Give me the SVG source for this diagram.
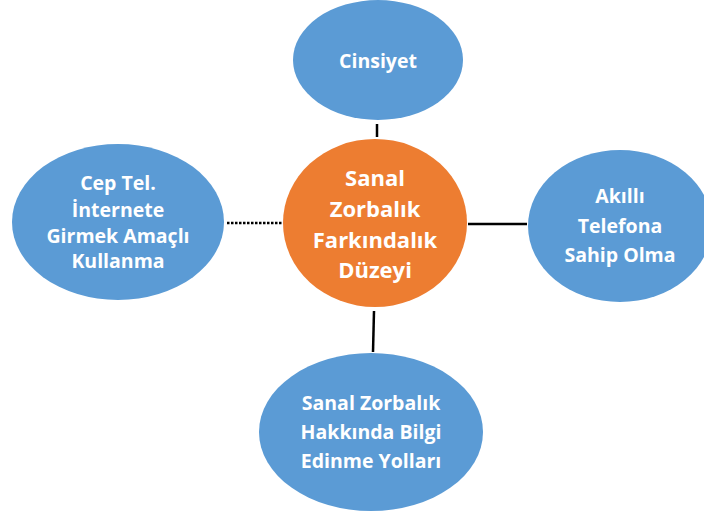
<svg xmlns="http://www.w3.org/2000/svg" width="704" height="513" viewBox="0 0 704 513">
<style>
.b{fill:#5B9BD5}
.o{fill:#ED7D31}
text{font-family:"Open Sans","Liberation Sans",sans-serif;font-weight:bold;fill:#fff;text-anchor:middle}
.s{font-size:19.5px}
.c{font-size:22px}
.ln{stroke:#000;stroke-width:2.5;fill:none}
</style>
<rect width="704" height="513" fill="#fff"/>
<g id="connectors">
<line class="ln" x1="377" y1="124" x2="377" y2="137"/>
<line class="ln" x1="468" y1="224" x2="527" y2="224"/>
<line class="ln" x1="374" y1="311" x2="373" y2="352"/>
<line class="ln" x1="227" y1="223" x2="282" y2="223" stroke-dasharray="2.5 1.5"/>
</g>
<g id="cinsiyet">
<ellipse class="b" cx="378" cy="60" rx="85" ry="60"/>
<text class="s" x="378" y="68">Cinsiyet</text>
</g>
<g id="center">
<ellipse class="o" cx="375" cy="223" rx="92" ry="84"/>
<text class="c" x="375" y="186">Sanal</text>
<text class="c" x="375" y="217">Zorbalık</text>
<text class="c" x="375" y="248">Farkındalık</text>
<text class="c" x="375" y="278">Düzeyi</text>
</g>
<g id="cep">
<ellipse class="b" cx="118" cy="222" rx="106" ry="78"/>
<text class="s" x="118" y="190">Cep Tel.</text>
<text class="s" x="118" y="217">İnternete</text>
<text class="s" x="118" y="243">Girmek Amaçlı</text>
<text class="s" x="118" y="268">Kullanma</text>
</g>
<g id="akilli">
<ellipse class="b" cx="620" cy="226" rx="92" ry="76"/>
<text class="s" x="620" y="203">Akıllı</text>
<text class="s" x="620" y="233">Telefona</text>
<text class="s" x="620" y="262">Sahip Olma</text>
</g>
<g id="bilgi">
<ellipse class="b" cx="371" cy="432" rx="112" ry="79"/>
<text class="s" x="371" y="410">Sanal Zorbalık</text>
<text class="s" x="371" y="439">Hakkında Bilgi</text>
<text class="s" x="371" y="468">Edinme Yolları</text>
</g>
</svg>
